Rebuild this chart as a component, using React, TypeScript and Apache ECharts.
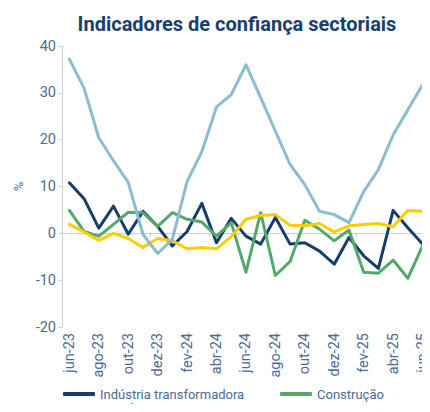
import React, { useEffect, useRef } from "react";
import * as echarts from "echarts";

const categories = [
  "jun-23", "jul-23", "ago-23", "set-23", "out-23", "nov-23", "dez-23",
  "jan-24", "fev-24", "mar-24", "abr-24", "mai-24", "jun-24", "jul-24",
  "ago-24", "set-24", "out-24", "nov-24", "dez-24", "jan-25", "fev-25",
  "mar-25", "abr-25", "mai-25", "jun-25",
];

const industria = [10.8, 7.4, 1.1, 5.8, -0.2, 4.7, 1.5, -2.7, 0.4, 6.4, -2.0, 3.2, -0.6, -2.3, 3.4, -2.3, -2.0, -3.8, -6.6, -0.9, -4.8, -7.5, 4.9, 1.2, -2.3];
const construcao = [4.9, 0.4, -0.6, 1.9, 4.5, 4.4, 1.5, 4.4, 3.0, 2.4, -0.6, 2.3, -8.3, 4.4, -9.0, -6.0, 2.8, 0.9, -1.6, 0.7, -8.3, -8.5, -5.7, -9.6, -2.7];
const comercio = [1.9, 0.3, -1.5, 0.0, -1.1, -3.0, -1.1, -1.6, -3.3, -3.0, -3.3, -0.7, 3.0, 3.8, 4.0, 1.7, 1.6, 2.1, 0.3, 1.6, 1.9, 2.1, 1.4, 4.9, 4.7];
const servicos = [37.2, 31.0, 20.4, 15.5, 10.9, -0.2, -4.3, -1.3, 11.1, 17.4, 27.0, 29.6, 36.0, 29.0, 21.8, 14.7, 10.4, 4.7, 4.0, 2.3, 8.9, 13.6, 21.0, 26.4, 31.7];

const seriesNames = ["Indústria transformadora", "Construção", "Comércio", "Serviços"];
const seriesColors = ["#173d6b", "#55a86b", "#ffcc00", "#8bbccf"];

const labelColor = "#4d6a94";
const font = "Roboto, 'Noto Sans', sans-serif";

export default function App() {
  const ref = useRef<HTMLDivElement>(null);
  useEffect(() => {
    if (!ref.current) return;
    const chart = echarts.init(ref.current, undefined, { renderer: "svg" });
    const data = [industria, construcao, comercio, servicos];
    const legendBase = {
      orient: "horizontal",
      icon: "roundRect",
      itemWidth: 32,
      itemHeight: 4,
      textStyle: { fontSize: 13, color: labelColor, lineHeight: 14, fontFamily: font },
      padding: 0,
    };
    const legendPos = [
      { left: 63, top: 387 },
      { left: 280, top: 387 },
      { left: 63, top: 401 },
      { left: 280, top: 401 },
    ];
    chart.setOption({
      animation: false,
      textStyle: { fontFamily: font },
      title: {
        text: "Indicadores de confiança sectoriais",
        left: 232,
        textAlign: "center",
        top: 9,
        textStyle: { fontSize: 20, fontWeight: "bold", color: "#1b3f6b", fontFamily: font },
      },
      legend: seriesNames.map((n, i) => ({ ...legendBase, ...legendPos[i], data: [n] })),
      grid: { left: 62, top: 46, width: 370.5, bottom: 85, containLabel: false },
      xAxis: [
        {
          type: "category",
          data: categories,
          boundaryGap: true,
          position: "bottom",
          axisLine: { show: false, onZero: false },
          axisTick: { show: false },
          axisLabel: {
            interval: 1,
            rotate: 90,
            fontSize: 14.5,
            color: labelColor,
            margin: 6,
            padding: [0, 0, 8, 0],
            fontFamily: font,
          },
          splitLine: { show: false },
        },
        {
          type: "category",
          data: categories,
          boundaryGap: true,
          position: "top",
          axisLine: { show: true, onZero: true, lineStyle: { color: "#cccccc", width: 1 } },
          axisTick: { show: true, interval: 1, length: 4, inside: true, lineStyle: { color: "#cccccc" } },
          axisLabel: { show: false },
          splitLine: { show: false },
        },
      ],
      yAxis: {
        type: "value",
        min: -20,
        max: 40,
        interval: 10,
        name: "%",
        nameLocation: "middle",
        nameGap: 33,
        nameRotate: 90,
        nameTextStyle: { fontSize: 13, color: labelColor },
        axisLine: { show: true, lineStyle: { color: "#cccccc" } },
        axisTick: { show: true, length: 3, lineStyle: { color: "#cccccc" } },
        axisLabel: { fontSize: 14.5, color: labelColor, margin: 6 },
        splitLine: { show: false },
      },
      series: seriesNames.map((name, i) => ({
        name,
        type: "line",
        data: data[i],
        xAxisIndex: 0,
        showSymbol: false,
        symbol: "none",
        lineStyle: { width: 3, color: seriesColors[i], join: "round", cap: "round" },
        itemStyle: { color: seriesColors[i] },
      })),
    });
    return () => chart.dispose();
  }, []);
  return <div ref={ref} style={{ width: 430, height: 412, margin: -8 }} />;
}
